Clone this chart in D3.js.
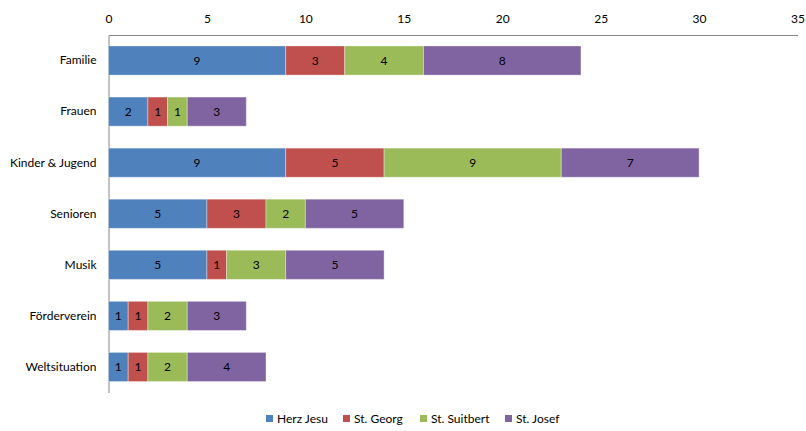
<!DOCTYPE html>
<html>
<head>
<meta charset="utf-8">
<script src="https://cdn.jsdelivr.net/npm/d3@7/dist/d3.min.js"></script>
<style>
  body { margin: 0; background: #fff; }
  text { font-family: Lato, "Open Sans", sans-serif; font-size: 12px; fill: #000; }
</style>
</head>
<body>
<div id="chart"></div>
<script>
var categories = ['Familie', 'Frauen', 'Kinder & Jugend', 'Senioren', 'Musik', 'Förderverein', 'Weltsituation'];
var seriesNames = ['Herz Jesu', 'St. Georg', 'St. Suitbert', 'St. Josef'];
var herzJesu = [9, 2, 9, 5, 5, 1, 1];
var stGeorg = [3, 1, 5, 3, 1, 1, 1];
var stSuitbert = [4, 1, 9, 2, 3, 2, 2];
var stJosef = [8, 3, 7, 5, 5, 3, 4];
var xTicks = [0, 5, 10, 15, 20, 25, 30, 35];
var colors = ['#4F81BD', '#C0504D', '#9BBB59', '#8064A2'];

function init() {
    'use strict';
    var width = 806, height = 431;
    var left = 108.5, right = 797.5, top = 35, bottom = 392.5;

    var rows = categories.map(function (c, i) {
        return { cat: c, 'Herz Jesu': herzJesu[i], 'St. Georg': stGeorg[i],
                 'St. Suitbert': stSuitbert[i], 'St. Josef': stJosef[i] };
    });
    var stacked = d3.stack().keys(seriesNames)(rows);

    var svg = d3.select('#chart').append('svg')
        .attr('width', width).attr('height', height);

    var x = d3.scaleLinear().domain([0, 35]).range([left, right]);
    var y = d3.scaleBand().domain(categories).range([top, bottom]).paddingInner(0.43).paddingOuter(0.215);
    var color = d3.scaleOrdinal().domain(seriesNames).range(colors);

    // top axis
    var xAxis = svg.append('g').attr('transform', 'translate(0,' + top + ')')
        .call(d3.axisTop(x).tickValues(xTicks).tickSize(0).tickPadding(12));
    xAxis.select('.domain').attr('stroke', '#868686');
    xAxis.selectAll('text').style('font-family', null).style('font-size', null).attr('font-family', null);

    // left axis
    var yAxis = svg.append('g').attr('transform', 'translate(' + left + ',0)')
        .call(d3.axisLeft(y).tickSize(0).tickPadding(12));
    yAxis.select('.domain').attr('stroke', '#868686');

    svg.selectAll('.tick text').attr('font-family', null).attr('font-size', null);

    var layers = svg.selectAll('g.layer').data(stacked).enter().append('g')
        .attr('class', 'layer').attr('fill', function (d) { return color(d.key); });

    layers.selectAll('rect').data(function (d) { return d; }).enter().append('rect')
        .attr('x', function (d) { return x(d[0]); })
        .attr('width', function (d) { return x(d[1]) - x(d[0]); })
        .attr('y', function (d) { return y(d.data.cat); })
        .attr('height', y.bandwidth())
        .attr('stroke', 'rgba(255,255,255,0.35)')
        .attr('stroke-width', 1);

    layers.selectAll('text.val').data(function (d) { return d; }).enter().append('text')
        .attr('class', 'val')
        .attr('x', function (d) { return (x(d[0]) + x(d[1])) / 2; })
        .attr('y', function (d) { return y(d.data.cat) + y.bandwidth() / 2; })
        .attr('dy', '0.35em')
        .attr('text-anchor', 'middle')
        .text(function (d) { return d[1] - d[0]; });

    // legend
    var legendX = [266, 343, 420, 505];
    var legend = svg.selectAll('g.legend').data(seriesNames).enter().append('g')
        .attr('class', 'legend')
        .attr('transform', function (d, i) { return 'translate(' + legendX[i] + ',419)'; });
    legend.append('rect').attr('x', 0).attr('y', -4).attr('width', 7).attr('height', 7)
        .attr('fill', function (d) { return color(d); });
    legend.append('text').attr('x', 11).attr('dy', '0.35em').text(function (d) { return d; });
}

window.onload = init;
</script>
</body>
</html>
